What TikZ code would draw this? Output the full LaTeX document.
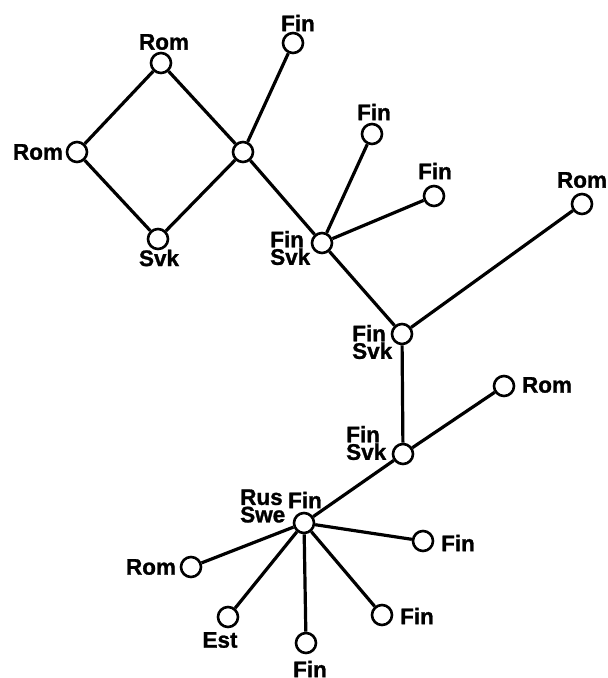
\documentclass[tikz,border=0pt]{standalone}
\usepackage{fontspec}
\setmainfont{Liberation Sans}[BoldFeatures={FakeBold=1.2}]
\begin{document}
\begin{tikzpicture}[x=1pt,y=-1pt,
  vtx/.style={circle,draw=black,fill=white,line width=2.6pt,minimum size=20pt,inner sep=0pt},
  lbl/.style={inner sep=0pt,font=\bfseries\fontsize{22.5}{17.5}\selectfont},
  lbl2/.style={lbl,align=left,anchor=west},
  edge/.style={line width=3.2pt,black}]
\useasboundingbox (0,0) rectangle (608,678);
% vertices
\node[vtx] (romT) at (161,63) {};
\node[vtx] (romL) at (77,152) {};
\node[vtx] (svk) at (158,239) {};
\node[vtx] (j) at (243,152) {};
\node[vtx] (finT) at (293,43) {};
\node[vtx] (fs1) at (322,243) {};
\node[vtx] (finA) at (372,134) {};
\node[vtx] (finB) at (434,196) {};
\node[vtx] (romR) at (582,204) {};
\node[vtx] (fs2) at (402,334) {};
\node[vtx] (romM) at (504,386) {};
\node[vtx] (fs3) at (403,454) {};
\node[vtx] (rfs) at (304,523) {};
\node[vtx] (finC) at (423,541) {};
\node[vtx] (romB) at (191,567) {};
\node[vtx] (est) at (228,617) {};
\node[vtx] (finD) at (306,643) {};
\node[vtx] (finE) at (382,615) {};
% edges
\draw[edge] (romT) -- (romL);
\draw[edge] (romL) -- (svk);
\draw[edge] (svk) -- (j);
\draw[edge] (romT) -- (j);
\draw[edge] (j) -- (finT);
\draw[edge] (j) -- (fs1);
\draw[edge] (fs1) -- (finA);
\draw[edge] (fs1) -- (finB);
\draw[edge] (fs1) -- (fs2);
\draw[edge] (fs2) -- (romR);
\draw[edge] (fs2) -- (fs3);
\draw[edge] (fs3) -- (romM);
\draw[edge] (fs3) -- (rfs);
\draw[edge] (rfs) -- (finC);
\draw[edge] (rfs) -- (romB);
\draw[edge] (rfs) -- (est);
\draw[edge] (rfs) -- (finD);
\draw[edge] (rfs) -- (finE);
% labels
\node[lbl] (lromT) at (164,42) {Rom};
\node[lbl] (lromL) at (38,152) {Rom};
\node[lbl] (lsvk) at (159,258) {Svk};
\node[lbl] (lfinT) at (298,23) {Fin};
\node[lbl] (lfinA) at (374,112) {Fin};
\node[lbl] (lfinB) at (435,171) {Fin};
\node[lbl] (lromR) at (582,180) {Rom};
\node[lbl2] (lfs1) at (270,248) {Fin\\Svk};
\node[lbl2] (lfs2) at (352,342) {Fin\\Svk};
\node[lbl2] (lfs3) at (346,443) {Fin\\Svk};
\node[lbl] (lromM) at (547,385) {Rom};
\node[lbl2] (lrs) at (240,506) {Rus\\Swe};
\node[lbl] (lfinR) at (305,500) {Fin};
\node[lbl] (lfinC) at (458,543) {Fin};
\node[lbl] (lromB) at (151,567) {Rom};
\node[lbl] (lest) at (220,640) {Est};
\node[lbl] (lfinD) at (310,669) {Fin};
\node[lbl] (lfinE) at (417,616) {Fin};
\end{tikzpicture}
\end{document}
